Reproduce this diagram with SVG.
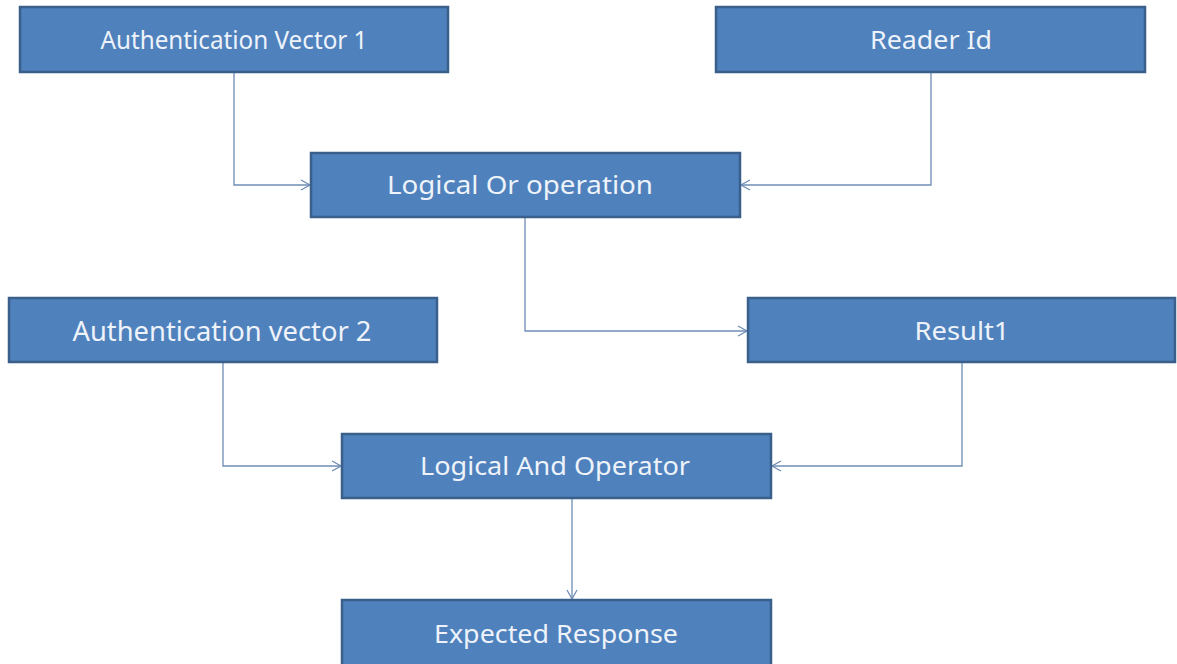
<svg xmlns="http://www.w3.org/2000/svg" width="1177" height="664" viewBox="0 0 1177 664">
  <defs>
    <marker id="arrow" markerWidth="12" markerHeight="12" refX="10" refY="6" orient="auto" markerUnits="userSpaceOnUse">
      <path d="M1,1 L10,6 L1,11" fill="none" stroke="#6f8db5" stroke-width="1.3"/>
    </marker>
  </defs>
  <style>
    .box { fill: #4f81bd; stroke: #3a5f8b; stroke-width: 2.5; }
    .label { font-family: "Noto Sans", "Open Sans", sans-serif; font-size: 25px; fill: #eef3fa; text-anchor: middle; }
    .link { fill: none; stroke: #6f8db5; stroke-width: 1.3; marker-end: url(#arrow); }
  </style>
  <rect width="1177" height="664" fill="#ffffff"/>

  <g id="connectors">
    <path class="link" d="M234,72 V185 H310"/>
    <path class="link" d="M931,72 V185 H741"/>
    <path class="link" d="M525,218 V331 H747"/>
    <path class="link" d="M223,363 V466 H341"/>
    <path class="link" d="M962,363 V466 H772"/>
    <path class="link" d="M572,499 V599"/>
  </g>

  <g id="auth-vector-1">
    <rect class="box" x="20" y="7" width="428" height="65"/>
    <text class="label" x="234" y="49" textLength="267" lengthAdjust="spacingAndGlyphs">Authentication Vector 1</text>
  </g>
  <g id="reader-id">
    <rect class="box" x="716" y="7" width="429" height="65"/>
    <text class="label" x="931" y="49" textLength="122" lengthAdjust="spacingAndGlyphs">Reader Id</text>
  </g>
  <g id="logical-or">
    <rect class="box" x="311" y="153" width="429" height="64"/>
    <text class="label" x="520" y="194" textLength="266" lengthAdjust="spacingAndGlyphs">Logical Or operation</text>
  </g>
  <g id="auth-vector-2">
    <rect class="box" x="9" y="298" width="428" height="64"/>
    <text class="label" x="222" y="341" style="font-size:27px" textLength="299" lengthAdjust="spacingAndGlyphs">Authentication vector 2</text>
  </g>
  <g id="result1">
    <rect class="box" x="748" y="298" width="427" height="64"/>
    <text class="label" x="962" y="340" textLength="95" lengthAdjust="spacingAndGlyphs">Result1</text>
  </g>
  <g id="logical-and">
    <rect class="box" x="342" y="434" width="429" height="64"/>
    <text class="label" x="555" y="475" textLength="270" lengthAdjust="spacingAndGlyphs">Logical And Operator</text>
  </g>
  <g id="expected-response">
    <rect class="box" x="342" y="600" width="429" height="66"/>
    <text class="label" x="556" y="643" textLength="244" lengthAdjust="spacingAndGlyphs">Expected Response</text>
  </g>
</svg>
